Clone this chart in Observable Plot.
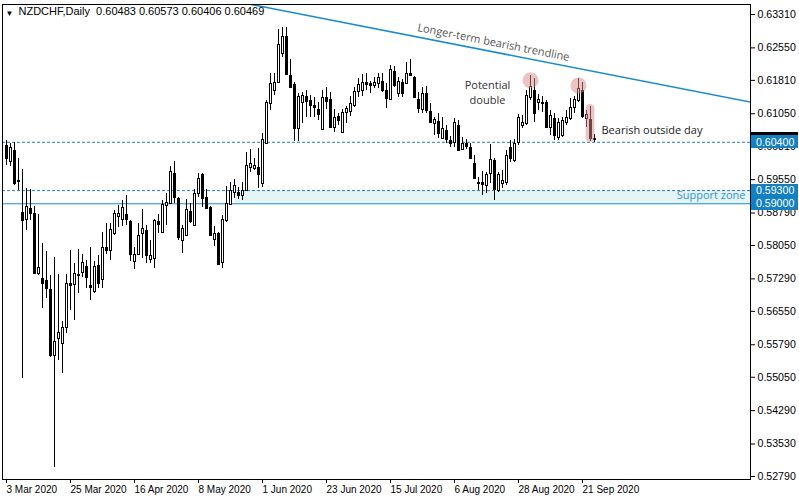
<!DOCTYPE html>
<html><head><meta charset="utf-8">
<script src="https://cdn.jsdelivr.net/npm/d3@7"></script>
<script src="https://cdn.jsdelivr.net/npm/@observablehq/plot@0.6"></script>
<style>html,body{margin:0;padding:0;background:#fff}svg{display:block}</style>
</head><body><div id="chart"></div>
<script>
// ---- data (NZDCHF daily, bar 0 = 3 Mar 2020) ----
const symbol = "NZDCHF,Daily";
const lastOHLC = [0.60483, 0.60573, 0.60406, 0.60469];

const open = [0.60327,0.59963,0.60213,0.59530,0.58801,0.58642,0.58893,0.58779,0.57413,0.57299,
0.57253,0.57048,0.55545,0.55933,0.55819,0.56183,0.57185,0.57162,0.57390,0.57435,
0.57572,0.57139,0.57002,0.57595,0.57276,0.58005,0.57936,0.58324,0.58710,0.58642,
0.58756,0.58597,0.57686,0.57845,0.58324,0.58392,0.57731,0.57754,0.58597,0.58346,
0.58961,0.59007,0.59690,0.59121,0.58164,0.58278,0.58824,0.58506,0.59235,0.59667,
0.59144,0.58916,0.58187,0.58324,0.57663,0.58620,0.58984,0.59257,0.59257,0.59189,
0.59303,0.59827,0.59804,0.59827,0.59462,0.60373,0.61284,0.61580,0.61761,0.62423,
0.62809,0.61921,0.61716,0.60715,0.61306,0.61443,0.61352,0.61238,0.61147,0.60692,
0.61421,0.61375,0.60738,0.60987,0.60623,0.61078,0.61101,0.61238,0.61557,0.61580,
0.61761,0.61739,0.61693,0.61739,0.61784,0.61580,0.61375,0.62012,0.61512,0.61761,
0.61739,0.61967,0.61876,0.61375,0.61147,0.61512,0.61101,0.60829,0.60874,0.60487,
0.60669,0.60441,0.60395,0.60783,0.60236,0.60373,0.60282,0.59918,0.59484,0.59484,
0.59416,0.59690,0.59986,0.59303,0.59462,0.59484,0.60282,0.59986,0.60395,0.60783,
0.60829,0.61421,0.61580,0.61306,0.61284,0.61306,0.60738,0.60942,0.60510,0.60555,
0.60851,0.60942,0.61193,0.61352,0.61580,0.60942,0.60919,0.60483];
const high = [0.60441,0.60373,0.60395,0.60031,0.59781,0.59348,0.59325,0.58938,0.58756,0.58096,
0.57913,0.57367,0.57777,0.57390,0.56319,0.57390,0.57936,0.57641,0.57959,0.57845,
0.57709,0.58005,0.57686,0.57822,0.58346,0.58552,0.58552,0.58847,0.58961,0.59075,
0.59189,0.58620,0.58005,0.58552,0.58870,0.58506,0.58164,0.58642,0.58756,0.59075,
0.59235,0.59849,0.59963,0.59144,0.58506,0.59098,0.59007,0.59325,0.59690,0.59690,
0.59325,0.58938,0.58483,0.58346,0.58733,0.59393,0.59484,0.59553,0.59371,0.59484,
0.60167,0.60236,0.60031,0.60259,0.60601,0.61352,0.61967,0.61967,0.62969,0.63015,
0.63015,0.62286,0.61761,0.61512,0.61534,0.61580,0.61466,0.61421,0.61306,0.61580,
0.61648,0.61534,0.61147,0.61056,0.61147,0.61215,0.61443,0.61648,0.61853,0.61944,
0.61967,0.61784,0.61876,0.61967,0.61967,0.61739,0.62149,0.62126,0.61876,0.61830,
0.62217,0.62286,0.61898,0.61534,0.61648,0.61670,0.61284,0.60965,0.61056,0.60965,
0.60783,0.60532,0.60942,0.60897,0.60510,0.60464,0.60373,0.60099,0.59599,0.59735,
0.59712,0.60350,0.60031,0.59712,0.59758,0.60213,0.60441,0.60464,0.61033,0.61010,
0.61580,0.61921,0.61853,0.61489,0.61443,0.61352,0.61124,0.61056,0.60942,0.60965,
0.61124,0.61398,0.61443,0.61853,0.61761,0.61124,0.61215,0.60573];
const low = [0.59872,0.59849,0.59416,0.59303,0.55022,0.58392,0.58620,0.57390,0.57367,0.56616,
0.56843,0.55500,0.52995,0.55431,0.55136,0.56047,0.56570,0.56342,0.56957,0.57322,
0.57071,0.56798,0.56957,0.57071,0.57071,0.57845,0.57709,0.58278,0.58461,0.58483,
0.58506,0.57686,0.57504,0.57822,0.57754,0.57641,0.57641,0.57527,0.58324,0.58324,
0.58506,0.58984,0.59007,0.58164,0.57868,0.58255,0.58552,0.58483,0.59144,0.58916,
0.58870,0.58255,0.58027,0.57595,0.57527,0.58574,0.58961,0.59121,0.59098,0.59075,
0.59280,0.59712,0.59758,0.59348,0.59371,0.60350,0.61124,0.61466,0.61739,0.62332,
0.61921,0.61625,0.60418,0.60418,0.60829,0.60965,0.60965,0.60965,0.60897,0.60669,
0.61147,0.60715,0.60623,0.60783,0.60601,0.60829,0.60987,0.61193,0.61421,0.61443,
0.61580,0.61512,0.61625,0.61625,0.61534,0.61170,0.61352,0.61648,0.61421,0.61421,
0.61716,0.61898,0.61398,0.61056,0.61056,0.61056,0.60829,0.60555,0.60487,0.60464,
0.60373,0.60282,0.60282,0.60190,0.60213,0.60236,0.60008,0.59553,0.59303,0.59189,
0.59235,0.59462,0.59075,0.59257,0.59348,0.59416,0.59940,0.59940,0.60327,0.60715,
0.60783,0.61352,0.60851,0.61124,0.61078,0.60715,0.60555,0.60441,0.60441,0.60510,
0.60783,0.60897,0.61056,0.61306,0.60942,0.60738,0.60418,0.60406];
const close = [0.60031,0.60282,0.59462,0.59507,0.58620,0.58938,0.58779,0.57413,0.57550,0.57185,
0.57071,0.55545,0.55864,0.56069,0.56183,0.57185,0.57139,0.57413,0.57367,0.57663,
0.57322,0.57094,0.57572,0.57185,0.58005,0.57936,0.58415,0.58779,0.58779,0.58916,
0.58642,0.57845,0.57845,0.58278,0.58438,0.57822,0.57822,0.58620,0.58529,0.58984,
0.59029,0.59735,0.59144,0.58233,0.58438,0.58870,0.58597,0.59235,0.59576,0.59121,
0.58893,0.58278,0.58324,0.57618,0.58642,0.59007,0.59303,0.59416,0.59189,0.59303,
0.59872,0.59918,0.59872,0.59667,0.60464,0.61306,0.61739,0.61761,0.62627,0.62809,
0.61944,0.61648,0.60715,0.61443,0.61466,0.61329,0.61238,0.61193,0.61033,0.61421,
0.61329,0.60738,0.60965,0.60897,0.61078,0.61170,0.61284,0.61557,0.61716,0.61761,
0.61716,0.61693,0.61761,0.61876,0.61580,0.61398,0.62058,0.61693,0.61784,0.61512,
0.61967,0.61921,0.61421,0.61170,0.61512,0.61124,0.60851,0.60919,0.60601,0.60715,
0.60464,0.60373,0.60851,0.60213,0.60373,0.60304,0.60031,0.59576,0.59462,0.59439,
0.59667,0.60008,0.59325,0.59667,0.59530,0.60099,0.60031,0.60373,0.60965,0.60851,
0.61466,0.61670,0.61056,0.61375,0.61306,0.60738,0.61010,0.60555,0.60851,0.60897,
0.60965,0.61193,0.61375,0.61625,0.60987,0.61033,0.60487,0.60469];

const tickLabels = ["3 Mar 2020","25 Mar 2020","16 Apr 2020","8 May 2020","1 Jun 2020",
  "23 Jun 2020","15 Jul 2020","6 Aug 2020","28 Aug 2020","21 Sep 2020"];
const barsPerTick = 16;
const yTicks = [0.63310,0.62550,0.61810,0.61050,0.60310,0.59550,0.58790,0.58050,
  0.57290,0.56550,0.55790,0.55050,0.54290,0.53530,0.52790];

const dashedLevels = [0.60400, 0.59300];
const solidLevels = [0.59000];
const supportZone = [{start: 57.25, end: 186, lo: 0.59000, hi: 0.59300}];
const trendline = [{i: 60, p: 0.63559}, {i: 187, p: 0.61295}];
const peaks = [{i: 131, p: 0.61810}, {i: 143, p: 0.61693}];
const outsideDay = [{i: 146, lo: 0.60395, hi: 0.61261}];
const trendNote = [{i: 121.75, p: 0.62672, text: "Longer-term bearish trendline"}];
const doubleNote = [{i: 120.25, p: 0.61546, text: "Potential\ndouble"}];
const outsideNote = [{i: 148.75, p: 0.60669, text: "Bearish outside day"}];
const zoneNote = [{i: 184.75, p: 0.59189, text: "Support zone"}];
const priceTags = [
  {v: lastOHLC[3], bg: "#000000", label: false},
  {v: 0.60400, bg: "#1380c4", label: true},
  {v: 0.59300, bg: "#1380c4", label: true},
  {v: 0.59000, bg: "#1380c4", label: true}
];

// ---- build ----
const bars = open.map((o, i) => ({i, o, h: high[i], l: low[i], c: close[i]}));
const tickIdx = tickLabels.map((_, k) => k * barsPerTick);
const W = 799, H = 501, mR = 49, mT = 4, mB = 22, mL = 2;
const blue = "#1b8ad0", dashBlue = "#2a7db6", pink = "#d98a8a";
const annFont = "'Open Sans', 'DejaVu Sans', sans-serif";
const axisFont = "'Liberation Sans', Arial, sans-serif";

const chart = Plot.plot({
  width: W, height: H,
  marginTop: mT, marginBottom: mB, marginLeft: mL, marginRight: mR,
  style: {fontFamily: axisFont, fontSize: "10px", background: "white", color: "black", overflow: "visible"},
  x: {type: "linear", domain: [-1, 186]},
  y: {domain: [0.527217, 0.635377]},
  marks: [
    Plot.rect(supportZone, {x1: "start", x2: "end", y1: "lo", y2: "hi", fill: "#e5f4f5"}),
    Plot.ruleY(dashedLevels, {stroke: dashBlue, strokeDasharray: "3,2"}),
    Plot.ruleY(solidLevels, {stroke: blue}),
    Plot.line(trendline, {x: "i", y: "p", stroke: blue, clip: true}),
    Plot.ruleX(bars, {x: "i", y1: "l", y2: "h", stroke: "black"}),
    Plot.rect(bars, {x1: d => d.i - 0.25, x2: d => d.i + 0.25, y1: "o", y2: "c",
      fill: d => d.c >= d.o ? "white" : "black", stroke: "black", strokeWidth: 1}),
    Plot.ruleY(bars, {y: "c", x1: d => d.i - 0.25, x2: d => d.i + 0.25, stroke: "black"}),
    Plot.dot(peaks, {x: "i", y: "p", r: 8, fill: pink, fillOpacity: 0.5}),
    Plot.rect(outsideDay, {x1: d => d.i - 1.1, x2: d => d.i + 1.1, y1: "lo", y2: "hi", rx: 4.5, fill: pink, fillOpacity: 0.5}),
    Plot.text(trendNote, {x: "i", y: "p", text: "text", rotate: 11.2, textAnchor: "middle", fill: "#555", fontFamily: annFont, fontSize: 11}),
    Plot.text(doubleNote, {x: "i", y: "p", text: "text", textAnchor: "middle", fill: "#333", fontFamily: annFont, fontSize: 11, lineHeight: 1.36}),
    Plot.text(outsideNote, {x: "i", y: "p", text: "text", textAnchor: "start", fill: "#222", fontFamily: annFont, fontSize: 11}),
    Plot.text(zoneNote, {x: "i", y: "p", text: "text", textAnchor: "end", fill: "#3493d3", fontFamily: annFont, fontSize: 11}),
    Plot.text(["\u25BC"], {frameAnchor: "top-left", dx: 3, dy: 6, lineAnchor: "top", fontSize: 8, textAnchor: "start"}),
    Plot.text([symbol + "\u00a0\u00a0" + lastOHLC.map(v => v.toFixed(5)).join("\u00a0")],
      {frameAnchor: "top-left", dx: 16, dy: 3, lineAnchor: "top", fontSize: 11, textAnchor: "start", fill: "#000"}),
    Plot.frame({stroke: "black"}),
    Plot.axisY({anchor: "right", ticks: yTicks, tickFormat: d => d.toFixed(5), tickSize: 4, tickPadding: 3, fontSize: 10.6}),
    Plot.axisX({anchor: "bottom", ticks: tickIdx, tickFormat: (d, k) => tickLabels[k], tickSize: 4, tickPadding: 2, textAnchor: "start", dx: 0})
  ]
});
document.getElementById("chart").append(chart);

const svg = d3.select(chart);
// snap candle geometry to whole pixels for crisp MT4-like candles
svg.selectAll("g").each(function () {
  const g = d3.select(this);
  const kids = g.selectChildren("rect,line");
  if (kids.size() !== bars.length) return;
  g.attr("shape-rendering", "crispEdges");
  kids.each(function () {
    const el = d3.select(this);
    if (this.tagName === "rect") {
      const y = +el.attr("y"), h = +el.attr("height");
      const y0 = Math.round(y), y1 = Math.round(y + h);
      el.attr("y", y0).attr("height", Math.max(0, y1 - y0));
      const x = +el.attr("x"), w = +el.attr("width");
      const x0 = Math.round(x), x1 = Math.round(x + w);
      el.attr("x", x0).attr("width", x1 - x0);
    } else {
      for (const a of ["x1", "x2", "y1", "y2"]) if (el.attr(a) != null) el.attr(a, Math.round(+el.attr(a)));
    }
  });
});

// price tags on the right scale
const ys = chart.scale("y");
const tagG = svg.append("g").attr("font-family", axisFont).attr("font-size", 10.6).attr("text-anchor", "start");
for (const t of priceTags) {
  const cy = ys.apply(t.v);
  tagG.append("rect").attr("x", W - mR + 1).attr("y", Math.round(cy - 6.5)).attr("width", mR - 2).attr("height", 13).attr("fill", t.bg);
  if (t.label) tagG.append("text").attr("x", W - mR + 6).attr("y", cy).attr("dy", "0.35em").attr("fill", "#fff").text(t.v.toFixed(5));
}
</script>
</body></html>
